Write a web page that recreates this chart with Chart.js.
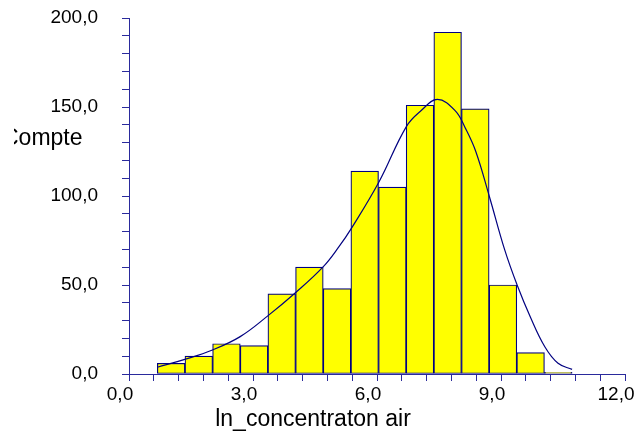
<!DOCTYPE html>
<html>
<head>
<meta charset="utf-8">
<script src="https://cdn.jsdelivr.net/npm/chart.js@4"></script>
<style>
  html, body { margin: 0; padding: 0; background: #ffffff; }
  #wrap { width: 636px; height: 436px; }
</style>
</head>
<body>
<div id="wrap"><canvas id="myChart" width="636" height="436"></canvas></div>
<script>
// bin edges of the histogram (ln_concentraton air)
const binEdges = [0.685, 1.354, 2.023, 2.692, 3.361, 4.030, 4.699, 5.368,
  6.037, 6.706, 7.375, 8.044, 8.713, 9.382, 10.051, 10.720];
// counts per bin
const counts = [6, 10, 17, 16, 45, 60, 48, 114, 105, 151, 192, 149, 50, 12, 1];
// fitted curve
const curveX = [0.685, 1.35, 2.02, 2.69, 3.35, 4.02, 4.69, 5.08, 5.38, 6.05,
  6.71, 7.07, 7.46, 7.89, 8.14, 8.39, 8.72, 9.09, 9.39, 9.71, 10.06, 10.38, 10.72];
const curveY = [3.8, 8.2, 13.5, 21, 32.5, 45.5, 60, 71.5, 81.8, 108,
  139, 148, 154.3, 148, 138, 125, 99.6, 69.7, 50, 32, 15.3, 6, 2.6];
const xTicksMajor = [0, 3, 6, 9, 12];
const yTicksMajor = [0, 50, 100, 150, 200];
const xTitle = "ln_concentraton air";
const yTitle = "Compte";

const navy = "#000080";
const axisColor = "#2a2a9c";
const font = "'Liberation Sans', Arial, sans-serif";

const barData = [];
for (let i = 0; i < counts.length; i++) {
  barData.push({ x: (binEdges[i] + binEdges[i + 1]) / 2, y: counts[i] });
}
const lineData = [];
for (let i = 0; i < curveX.length; i++) {
  lineData.push({ x: curveX[i], y: curveY[i] });
}

function fmt(v) {
  return v.toFixed(1).replace(".", ",");
}
function isIn(list, v) {
  return list.some((t) => Math.abs(t - v) < 1e-6);
}

// axis titles drawn by hand (the y one is cut at the left like the original)
const titles = {
  id: "titles",
  afterDraw(chart) {
    const c = chart.ctx;
    c.save();
    c.fillStyle = "#000000";
    c.font = "23px " + font;
    c.textBaseline = "alphabetic";
    c.textAlign = "center";
    c.fillText(xTitle, 313, 426);
    c.beginPath();
    c.rect(14, 100, 120, 60);
    c.clip();
    c.textAlign = "left";
    c.fillText(yTitle, 2, 145);
    c.restore();
  },
};

const ctx = document.getElementById("myChart");
const chart = new Chart(ctx, {
  data: {
    datasets: [
      {
        type: "line",
        data: lineData,
        borderColor: navy,
        borderWidth: 1.2,
        pointRadius: 0,
        fill: false,
        tension: 0.4,
        order: 0,
      },
      {
        type: "bar",
        data: barData,
        backgroundColor: "#ffff00",
        borderColor: navy,
        borderWidth: 1.2,
        borderSkipped: false,
        // one bin wide, measured through the x scale
        barThickness: (c) => {
          const s = c.chart.scales.x;
          return s.getPixelForValue(binEdges[1]) - s.getPixelForValue(binEdges[0]);
        },
        grouped: false,
        order: 1,
      },
    ],
  },
  plugins: [titles],
  options: {
    responsive: false,
    animation: false,
    devicePixelRatio: 1,
    layout: { padding: { top: 18, right: 11, bottom: 0, left: 0 } },
    plugins: {
      legend: { display: false },
      tooltip: { enabled: false },
    },
    scales: {
      x: {
        type: "linear",
        min: 0,
        max: 12,
        offset: false,
        border: { display: true, color: axisColor, width: 1 },
        grid: {
          offset: false,
          drawOnChartArea: false,
          color: axisColor,
          tickLength: 7,
        },
        ticks: {
          stepSize: 0.6,
          autoSkip: false,
          maxRotation: 0,
          padding: 2,
          labelOffset: -9,
          color: "#000000",
          font: { family: font, size: 19 },
          callback: (v) => (isIn(xTicksMajor, v) ? fmt(v) : ""),
        },
        afterFit: (scale) => {
          scale.height = 62;
          scale.paddingLeft = 0;
          scale.paddingRight = 0;
        },
      },
      y: {
        type: "linear",
        min: 0,
        max: 200,
        border: { display: true, color: axisColor, width: 1 },
        grid: {
          drawOnChartArea: false,
          color: axisColor,
          tickLength: 7,
        },
        ticks: {
          stepSize: 10,
          autoSkip: false,
          padding: 24,
          color: "#000000",
          font: { family: font, size: 19 },
          callback: (v) => (isIn(yTicksMajor, v) ? fmt(v) : ""),
        },
        afterFit: (scale) => {
          scale.width = 129;
          scale.paddingTop = 0;
          scale.paddingBottom = 0;
        },
      },
    },
  },
});
</script>
</body>
</html>
